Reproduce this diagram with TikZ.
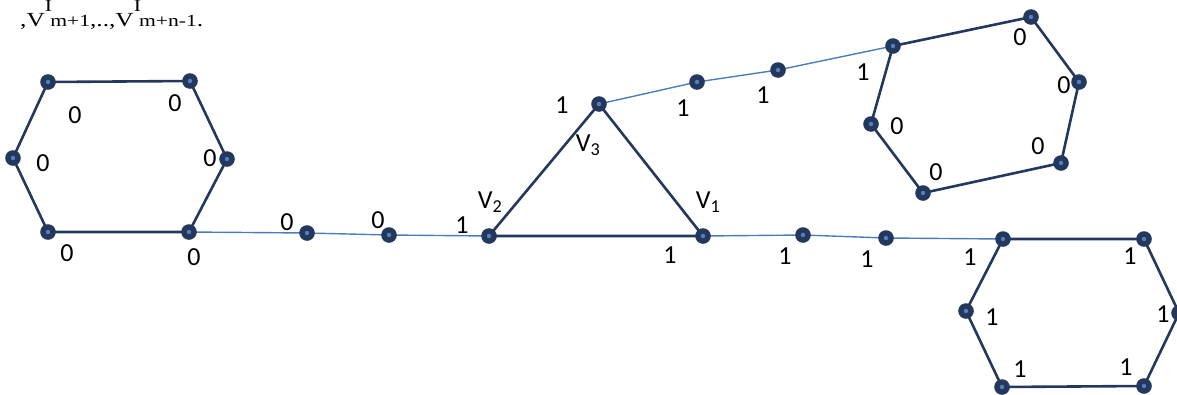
\documentclass[tikz,border=0pt]{standalone}
\usepackage{fontspec}
\setmainfont{Carlito}
\newfontfamily\titlefont{Liberation Serif}
\definecolor{navy}{RGB}{36,56,94}
\definecolor{pathblue}{RGB}{74,126,187}
\definecolor{dotblue}{RGB}{79,129,189}
\tikzset{
  edge/.style={navy,line width=2.6pt},
  chain/.style={pathblue,line width=1.4pt},
  lab/.style={font=\fontsize{26}{30}\selectfont,inner sep=0pt}
}
\newcommand\supI{\rlap{\raisebox{15pt}{\fontsize{17}{17}\selectfont I}}}
\newcommand\subsz{\fontsize{17}{17}\selectfont}

\begin{document}
\begin{tikzpicture}[x=1pt,y=-1pt,line join=round,line cap=round]
\useasboundingbox (0,0) rectangle (1177,394);
% the vertices
\foreach \n/\x/\y in {a1/48/82,a2/190/81,a3/227/159,a4/189/232,a5/48/232,a6/13/158,
  b1/307/233,b2/389/235,v1/703/236,v2/489/236,v3/599/104,c1/697/82,c2/778/70,
  d1/893/46,d2/1031/17,d3/1079/82,d4/1061/163,d5/923/193,d6/871/124,
  e1/803/235,e2/886/238,
  f1/1003/239,f2/1144/239,f3/1179/313,f4/1144/386,f5/1002/387,f6/966/311}
  \path (\x,\y) coordinate (\n);
\draw[edge] (a1)--(a2)--(a3)--(a4)--(a5)--(a6)--cycle;
\draw[chain] (a4)--(b1)--(b2)--(v2);
\draw[edge] (v1)--(v2)--(v3)--cycle;
\draw[chain] (v3)--(c1)--(c2)--(d1);
\draw[edge] (d1)--(d2)--(d3)--(d4)--(d5)--(d6)--cycle;
\draw[chain] (v1)--(e1)--(e2)--(f1);
\draw[edge] (f1)--(f2)--(f3)--(f4)--(f5)--(f6)--cycle;
\foreach \p in {a1,a2,a3,a4,a5,a6,b1,b2,v1,v2,v3,c1,c2,d1,d2,d3,d4,d5,d6,e1,e2,f1,f2,f3,f4,f5,f6}
  {\fill[navy] (\p) circle (7.8pt);
   \fill[dotblue] (\p) circle (2.2pt);}
% labels
\foreach \x/\y/\t [count=\i] in {75/115/0,175/103/0,43/163/0,210/158/0,67/253/0,194/257/0,
  287/222/0,378/220/0,462/225/1,562/105/1,670/255/1,
  683/108/1,763/95/1,863/72/1,
  1020/37/0,1064/85/0,1038/146/0,936/172/0,897/126/0,
  785/256/1,867/259/1,970/257/1,1130/256/1,992/317/1,1163/314/1,1020/369/1,1126/367/1}
  \node[lab] (l\i) at (\x,\y) {\t};
\node[lab] (lv1) at (708,202) {V\textsubscript{1}};
\node[lab] (lv2) at (490,202) {V\textsubscript{2}};
\node[lab] (lv3) at (588,145) {V\textsubscript{3}};
\node[anchor=base west,inner sep=0pt] (title) at (20,26)
  {\titlefont\fontsize{20}{20}\selectfont\scalebox{1.27}[1]{,V\supI{\subsz\ m+1},..,V\supI{\subsz\ m+n-1}.}};
\end{tikzpicture}
\end{document}
